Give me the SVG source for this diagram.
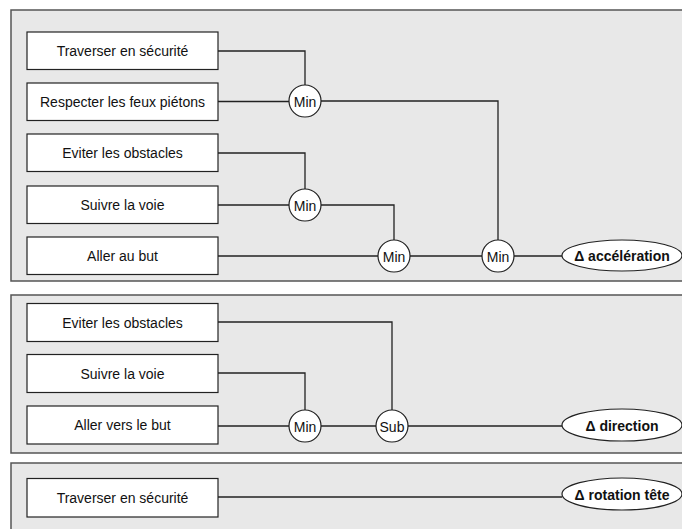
<svg xmlns="http://www.w3.org/2000/svg" width="682" height="529" viewBox="0 0 682 529">
<style>
.panel{fill:#e8e8e8;stroke:#555;stroke-width:1.5}
.box{fill:#fff;stroke:#222;stroke-width:1.2}
.op{fill:#fff;stroke:#222;stroke-width:1.2}
.out{fill:#fff;stroke:#222;stroke-width:1.2}
.t{font-family:"Liberation Sans",Arial,sans-serif;font-size:14px;fill:#111;text-anchor:middle;dominant-baseline:central}
.tb{font-family:"Liberation Sans",Arial,sans-serif;font-size:14px;font-weight:bold;fill:#111;text-anchor:middle;dominant-baseline:central}
.c{fill:none;stroke:#222;stroke-width:1.3}
</style>
<rect x="0" y="0" width="682" height="529" fill="#fff"/>
<g id="panels">
<rect class="panel" x="11" y="10" width="690" height="271"/>
<rect class="panel" x="11" y="295" width="690" height="158"/>
<rect class="panel" x="11" y="463" width="690" height="90"/>
</g>
<g id="connectors">
<polyline class="c" points="218,51 305,51 305,85"/>
<line class="c" x1="218" y1="101.5" x2="289" y2="101.5"/>
<polyline class="c" points="321,101 498,101 498,240"/>
<polyline class="c" points="218,153 305,153 305,189"/>
<line class="c" x1="218" y1="205" x2="289" y2="205"/>
<polyline class="c" points="321,205 394,205 394,240"/>
<line class="c" x1="218" y1="256" x2="378" y2="256"/>
<line class="c" x1="410" y1="256" x2="482" y2="256"/>
<line class="c" x1="514" y1="256" x2="562" y2="256"/>
<polyline class="c" points="218,322 392,322 392,410"/>
<polyline class="c" points="218,373 305,373 305,410"/>
<line class="c" x1="218" y1="426" x2="289" y2="426"/>
<line class="c" x1="321" y1="426" x2="376" y2="426"/>
<line class="c" x1="408" y1="426" x2="562" y2="426"/>
<line class="c" x1="218" y1="497" x2="562" y2="497"/>
</g>
<g id="p1-traverser"><rect class="box" x="27" y="32" width="191" height="37.5"/><text class="t" x="122.5" y="51">Traverser en sécurité</text></g>
<g id="p1-feux"><rect class="box" x="27" y="83" width="191" height="37.5"/><text class="t" x="122.5" y="102">Respecter les feux piétons</text></g>
<g id="p1-eviter"><rect class="box" x="27" y="134" width="191" height="37.5"/><text class="t" x="122.5" y="153">Eviter les obstacles</text></g>
<g id="p1-suivre"><rect class="box" x="27" y="186" width="191" height="37.5"/><text class="t" x="122.5" y="205">Suivre la voie</text></g>
<g id="p1-aller"><rect class="box" x="27" y="237" width="191" height="37.5"/><text class="t" x="122.5" y="256">Aller au but</text></g>
<g id="p1-min1"><circle class="op" cx="305" cy="101" r="16"/><text class="t" x="305" y="101.5">Min</text></g>
<g id="p1-min2"><circle class="op" cx="305" cy="205" r="16"/><text class="t" x="305" y="205.5">Min</text></g>
<g id="p1-min3"><circle class="op" cx="394" cy="256" r="16"/><text class="t" x="394" y="256.5">Min</text></g>
<g id="p1-min4"><circle class="op" cx="498" cy="256" r="16"/><text class="t" x="498" y="256.5">Min</text></g>
<g id="p1-out"><ellipse class="out" cx="622" cy="255.5" rx="60" ry="15.5"/><text class="tb" x="622" y="256">Δ accélération</text></g>
<g id="p2-eviter"><rect class="box" x="27" y="303.5" width="191" height="38"/><text class="t" x="122.5" y="322.5">Eviter les obstacles</text></g>
<g id="p2-suivre"><rect class="box" x="27" y="354.5" width="191" height="38"/><text class="t" x="122.5" y="373.5">Suivre la voie</text></g>
<g id="p2-aller"><rect class="box" x="27" y="406" width="191" height="38"/><text class="t" x="122.5" y="425">Aller vers le but</text></g>
<g id="p2-min"><circle class="op" cx="305" cy="426" r="16"/><text class="t" x="305" y="426.5">Min</text></g>
<g id="p2-sub"><circle class="op" cx="392" cy="426" r="16"/><text class="t" x="392" y="426.5">Sub</text></g>
<g id="p2-out"><ellipse class="out" cx="622" cy="425" rx="60" ry="16"/><text class="tb" x="622" y="425.5">Δ direction</text></g>
<g id="p3-traverser"><rect class="box" x="27" y="478.5" width="191" height="38.5"/><text class="t" x="122.5" y="497.5">Traverser en sécurité</text></g>
<g id="p3-out"><ellipse class="out" cx="622" cy="494" rx="60" ry="16"/><text class="tb" x="622" y="494.5">Δ rotation tête</text></g>
</svg>
